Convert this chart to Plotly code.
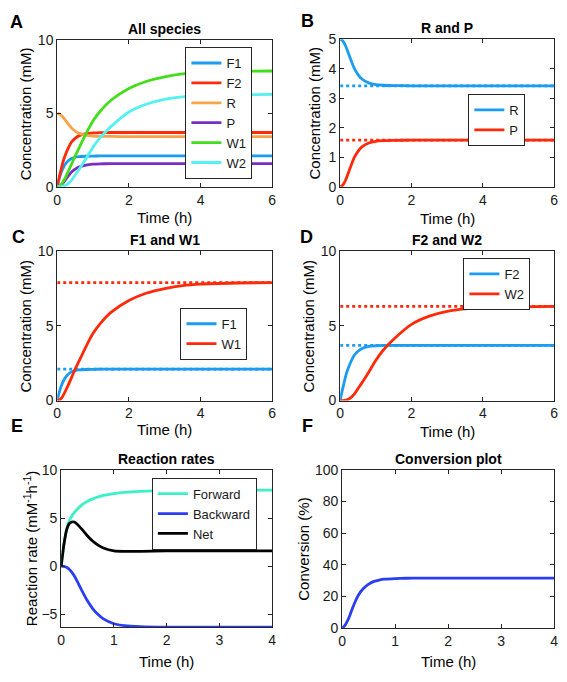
import plotly.graph_objects as go

# ---------------- data ----------------
t6 = [0, 0.05, 0.1, 0.15, 0.2, 0.3, 0.4, 0.5, 0.6, 0.8, 1.0, 1.2, 1.5, 2.0, 2.5, 3.0, 3.5, 4.0, 5.0, 6.0]
F1 = [0, 0.5, 0.9, 1.2, 1.45, 1.75, 1.92, 2.01, 2.05, 2.08, 2.09, 2.1, 2.1, 2.1, 2.1, 2.1, 2.1, 2.1, 2.1, 2.1]
F2 = [0, 0.6, 1.1, 1.6, 2.0, 2.6, 3.05, 3.3, 3.47, 3.62, 3.67, 3.69, 3.7, 3.7, 3.7, 3.7, 3.7, 3.7, 3.7, 3.7]
R = [5, 4.97, 4.9, 4.78, 4.63, 4.3, 4.0, 3.8, 3.66, 3.52, 3.46, 3.44, 3.43, 3.42, 3.42, 3.42, 3.42, 3.42, 3.42, 3.42]
P = [0, 0.03, 0.1, 0.22, 0.37, 0.7, 1.0, 1.2, 1.34, 1.48, 1.54, 1.56, 1.57, 1.58, 1.58, 1.58, 1.58, 1.58, 1.58, 1.58]
W1 = [0, 0.03, 0.12, 0.28, 0.5, 1.0, 1.55, 2.1, 2.6, 3.6, 4.5, 5.15, 5.9, 6.7, 7.2, 7.5, 7.7, 7.8, 7.87, 7.9]
W2 = [0, 0, 0.01, 0.03, 0.06, 0.2, 0.45, 0.8, 1.15, 1.9, 2.7, 3.35, 4.1, 5.1, 5.65, 5.97, 6.13, 6.2, 6.27, 6.3]

eq_R, eq_P, eq_F1, eq_W1, eq_F2, eq_W2 = 3.42, 1.58, 2.1, 7.9, 3.7, 6.3

t4 = [0, 0.05, 0.1, 0.15, 0.2, 0.25, 0.3, 0.4, 0.5, 0.6, 0.7, 0.8, 1.0, 1.2, 1.5, 2.0, 2.5, 3.0, 4.0]
forward = [0, 2.2, 3.8, 4.7, 5.2, 5.6, 5.9, 6.4, 6.75, 7.0, 7.2, 7.35, 7.55, 7.68, 7.78, 7.85, 7.88, 7.9, 7.9]
backward = [0, 0, -0.1, -0.3, -0.6, -1.0, -1.5, -2.6, -3.6, -4.4, -5.0, -5.45, -5.95, -6.15, -6.25, -6.3, -6.3, -6.3, -6.3]
net = [0, 2.2, 3.7, 4.4, 4.6, 4.6, 4.4, 3.8, 3.15, 2.6, 2.2, 1.9, 1.6, 1.55, 1.55, 1.6, 1.6, 1.6, 1.6]
conversion = [0, 1.5, 4.5, 8.5, 13, 17, 20.5, 25, 27.8, 29.5, 30.4, 30.9, 31.3, 31.5, 31.6, 31.6, 31.6, 31.6, 31.6]

# ---------------- styling ----------------
W, H = 567, 682
FONT = "Liberation Sans, Arial, sans-serif"
C_BLUE = "#1a9cf0"
C_RED = "#ff2a0a"
C_ORANGE = "#f7a347"
C_PURPLE = "#7a2ec4"
C_GREEN = "#44dd1c"
C_CYAN = "#55f0f0"
C_TURQ = "#3ef0c8"
C_DBLUE = "#2a3ef0"
LW = 2.8

fig = go.Figure()

# panel pixel boxes: (left, right, top, bottom)
boxes = {
    1: (54, 272, 33, 183),
    2: (341, 558, 32, 183),
    3: (54, 272, 249, 402),
    4: (341, 558, 249, 402),
    5: (58, 272, 473, 634),
    6: (343, 558, 473, 635),
}


def xd(l, r):
    return [l / W, r / W]


def yd(t, b):
    return [1 - b / H, 1 - t / H]


def add(idx, x, y, name, color, legend=None, dash=None, show=True):
    fig.add_trace(go.Scatter(
        x=x, y=y, name=name, mode="lines",
        line=dict(color=color, width=LW, shape="spline", smoothing=0.6, dash=dash),
        xaxis="x" if idx == 1 else f"x{idx}", yaxis="y" if idx == 1 else f"y{idx}",
        showlegend=show, legend=legend, hoverinfo="skip"))


def hline(idx, x, yv, color):
    fig.add_trace(go.Scatter(
        x=[x[0], x[-1]], y=[yv, yv], mode="lines",
        line=dict(color=color, width=LW, dash="dot"),
        xaxis="x" if idx == 1 else f"x{idx}", yaxis="y" if idx == 1 else f"y{idx}",
        showlegend=False, hoverinfo="skip"))


# Panel A
add(1, t6, F1, "F1", C_BLUE, "legend")
add(1, t6, F2, "F2", C_RED, "legend")
add(1, t6, R, "R", C_ORANGE, "legend")
add(1, t6, P, "P", C_PURPLE, "legend")
add(1, t6, W1, "W1", C_GREEN, "legend")
add(1, t6, W2, "W2", C_CYAN, "legend")

# Panel B
hline(2, t6, eq_R, C_BLUE)
hline(2, t6, eq_P, C_RED)
add(2, t6, R, "R", C_BLUE, "legend2")
add(2, t6, P, "P", C_RED, "legend2")

# Panel C
hline(3, t6, eq_W1, C_RED)
hline(3, t6, eq_F1, C_BLUE)
add(3, t6, F1, "F1", C_BLUE, "legend3")
add(3, t6, W1, "W1", C_RED, "legend3")

# Panel D
hline(4, t6, eq_W2, C_RED)
hline(4, t6, eq_F2, C_BLUE)
add(4, t6, F2, "F2", C_BLUE, "legend4")
add(4, t6, W2, "W2", C_RED, "legend4")

# Panel E
add(5, t4, forward, "Forward", C_TURQ, "legend5")
add(5, t4, backward, "Backward", C_DBLUE, "legend5")
add(5, t4, net, "Net", "#000000", "legend5")

# Panel F
add(6, t4, conversion, "Conversion", C_DBLUE, show=False)

axis_common = dict(
    showline=True, linecolor="#262626", linewidth=1, mirror="allticks",
    ticks="inside", ticklen=4, tickcolor="#262626", showgrid=False, zeroline=False,
    tickfont=dict(family=FONT, size=14, color="#1a1a1a"),
    ticklabeloverflow="allow",
)

xranges = {1: [0, 6], 2: [0, 6], 3: [0, 6], 4: [0, 6], 5: [0, 4], 6: [0, 4]}
xticks = {1: [0, 2, 4, 6], 2: [0, 2, 4, 6], 3: [0, 2, 4, 6], 4: [0, 2, 4, 6],
          5: [0, 1, 2, 3, 4], 6: [0, 1, 2, 3, 4]}
yranges = {1: [0, 10], 2: [0, 5], 3: [0, 10], 4: [0, 10], 5: [-6.3, 10], 6: [0, 100]}
yticks = {1: [0, 5, 10], 2: [0, 1, 2, 3, 4, 5], 3: [0, 5, 10], 4: [0, 5, 10],
          5: [-5, 0, 5, 10], 6: [0, 20, 40, 60, 80, 100]}

layout = {}
for i, (l, r, t, b) in boxes.items():
    xa = "xaxis" if i == 1 else f"xaxis{i}"
    ya = "yaxis" if i == 1 else f"yaxis{i}"
    layout[xa] = dict(axis_common, domain=xd(l, r), range=xranges[i], tickvals=xticks[i],
                      anchor="y" if i == 1 else f"y{i}")
    layout[ya] = dict(axis_common, domain=yd(t, b), range=yranges[i], tickvals=yticks[i],
                      anchor="x" if i == 1 else f"x{i}")


def legend_box(l, t, size=13):
    return dict(x=l / W, y=1 - t / H, xanchor="left", yanchor="top",
                bgcolor="white", bordercolor="#262626", borderwidth=1,
                font=dict(family=FONT, size=size, color="#1a1a1a"),
                tracegroupgap=0, itemwidth=30)


layout["legend"] = legend_box(184, 40)
layout["legend2"] = legend_box(471, 88)
layout["legend3"] = legend_box(179, 307)
layout["legend4"] = legend_box(466, 256)
layout["legend5"] = legend_box(150, 481)


def note(text, xp, yp, size, angle=0, xanchor="center"):
    return dict(text=text, x=xp / W, y=1 - yp / H, xref="paper", yref="paper",
                xanchor=xanchor, yanchor="middle", showarrow=False, textangle=angle,
                font=dict(family=FONT, size=size, color="#000000"))


ann = []
# subplot titles
titles = {1: "All species", 2: "R and P", 3: "F1 and W1", 4: "F2 and W2",
          5: "Reaction rates", 6: "Conversion plot"}
title_y = {1: 21, 2: 20, 3: 238, 4: 238, 5: 462, 6: 462}
for i, txt in titles.items():
    l, r, t, b = boxes[i]
    ann.append(note(f"<b>{txt}</b>", (l + r) / 2, title_y[i], 14))

# x axis titles
xt_y = {1: 215, 2: 216, 3: 432, 4: 434, 5: 669, 6: 669}
for i in boxes:
    l, r, t, b = boxes[i]
    ann.append(note("Time (h)", (l + r) / 2, xt_y[i], 15))

# y axis titles
yt = {1: ("Concentration (mM)", 22), 2: ("Concentration (mM)", 315),
      3: ("Concentration (mM)", 22), 4: ("Concentration (mM)", 309),
      5: ("Reaction rate (mM<sup>-1</sup>h<sup>-1</sup>)", 27), 6: ("Conversion (%)", 303)}
for i, (txt, xp) in yt.items():
    l, r, t, b = boxes[i]
    ann.append(note(txt, xp, (t + b) / 2, 15, angle=-90))

# panel letters
letters = {"A": (4, 14), "B": (299, 13), "C": (6, 235), "D": (298, 235), "E": (5, 428), "F": (300, 428)}
for k, (xp, yp) in letters.items():
    ann.append(note(f"<b>{k}</b>", xp, yp, 18, xanchor="left"))

fig.update_layout(
    width=W, height=H, margin=dict(l=0, r=0, t=0, b=0),
    paper_bgcolor="white", plot_bgcolor="white",
    annotations=ann, **layout,
)

fig.write_html(
    "out.html",
    config={"displayModeBar": False},
    post_script="document.body.style.margin='0';document.body.style.overflow='hidden';",
)
